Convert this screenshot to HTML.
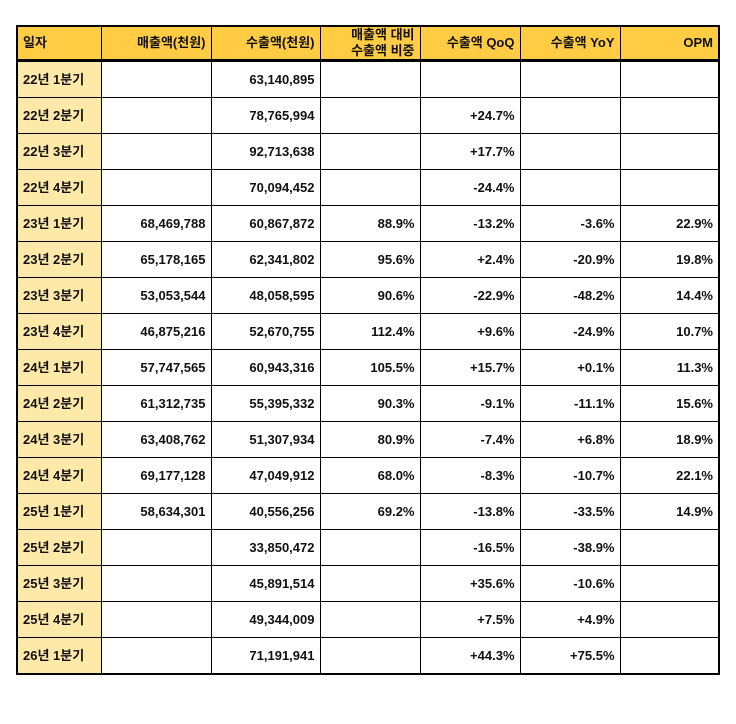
<!DOCTYPE html>
<html><head><meta charset="utf-8"><style>
body{margin:0;background:#fff;width:736px;height:724px;position:relative;font-family:"Liberation Sans","Noto Sans CJK KR",sans-serif;}
table{position:absolute;left:16px;top:25px;border-collapse:collapse;table-layout:fixed;border:2.5px solid #000;}
td,th{border:1px solid #000;height:35px;padding:0 5px;font-size:13px;font-weight:bold;text-align:right;color:#111;line-height:15px;}
th{background:#FFCC44;border-bottom:3px solid #000;height:32px;line-height:16px;}
td:first-child,th:first-child{text-align:left;}
td:first-child{background:#FFE9A8;}
</style></head><body>
<table>
<colgroup><col style="width:84px"><col style="width:110px"><col style="width:109px"><col style="width:100px"><col style="width:100px"><col style="width:100px"><col style="width:99px"></colgroup>
<tr><th>일자</th><th>매출액(천원)</th><th>수출액(천원)</th><th>매출액 대비<br>수출액 비중</th><th>수출액 QoQ</th><th>수출액 YoY</th><th>OPM</th></tr>
<tr><td>22년 1분기</td><td></td><td>63,140,895</td><td></td><td></td><td></td><td></td></tr>
<tr><td>22년 2분기</td><td></td><td>78,765,994</td><td></td><td>+24.7%</td><td></td><td></td></tr>
<tr><td>22년 3분기</td><td></td><td>92,713,638</td><td></td><td>+17.7%</td><td></td><td></td></tr>
<tr><td>22년 4분기</td><td></td><td>70,094,452</td><td></td><td>-24.4%</td><td></td><td></td></tr>
<tr><td>23년 1분기</td><td>68,469,788</td><td>60,867,872</td><td>88.9%</td><td>-13.2%</td><td>-3.6%</td><td>22.9%</td></tr>
<tr><td>23년 2분기</td><td>65,178,165</td><td>62,341,802</td><td>95.6%</td><td>+2.4%</td><td>-20.9%</td><td>19.8%</td></tr>
<tr><td>23년 3분기</td><td>53,053,544</td><td>48,058,595</td><td>90.6%</td><td>-22.9%</td><td>-48.2%</td><td>14.4%</td></tr>
<tr><td>23년 4분기</td><td>46,875,216</td><td>52,670,755</td><td>112.4%</td><td>+9.6%</td><td>-24.9%</td><td>10.7%</td></tr>
<tr><td>24년 1분기</td><td>57,747,565</td><td>60,943,316</td><td>105.5%</td><td>+15.7%</td><td>+0.1%</td><td>11.3%</td></tr>
<tr><td>24년 2분기</td><td>61,312,735</td><td>55,395,332</td><td>90.3%</td><td>-9.1%</td><td>-11.1%</td><td>15.6%</td></tr>
<tr><td>24년 3분기</td><td>63,408,762</td><td>51,307,934</td><td>80.9%</td><td>-7.4%</td><td>+6.8%</td><td>18.9%</td></tr>
<tr><td>24년 4분기</td><td>69,177,128</td><td>47,049,912</td><td>68.0%</td><td>-8.3%</td><td>-10.7%</td><td>22.1%</td></tr>
<tr><td>25년 1분기</td><td>58,634,301</td><td>40,556,256</td><td>69.2%</td><td>-13.8%</td><td>-33.5%</td><td>14.9%</td></tr>
<tr><td>25년 2분기</td><td></td><td>33,850,472</td><td></td><td>-16.5%</td><td>-38.9%</td><td></td></tr>
<tr><td>25년 3분기</td><td></td><td>45,891,514</td><td></td><td>+35.6%</td><td>-10.6%</td><td></td></tr>
<tr><td>25년 4분기</td><td></td><td>49,344,009</td><td></td><td>+7.5%</td><td>+4.9%</td><td></td></tr>
<tr><td>26년 1분기</td><td></td><td>71,191,941</td><td></td><td>+44.3%</td><td>+75.5%</td><td></td></tr>
</table>
</body></html>
